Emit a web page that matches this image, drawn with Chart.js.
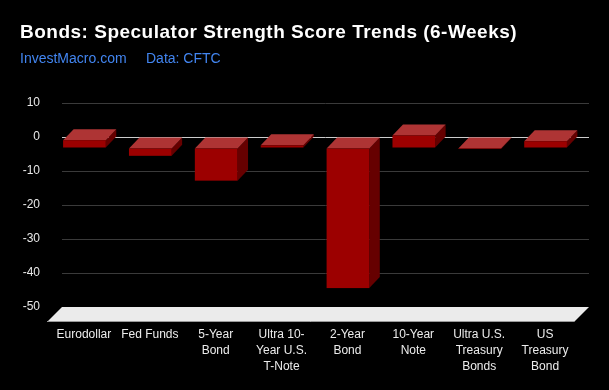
<!DOCTYPE html>
<html>
<head>
<meta charset="utf-8">
<title>Bonds: Speculator Strength Score Trends</title>
<script src="https://cdn.jsdelivr.net/npm/chart.js@4.4.1/dist/chart.umd.min.js"></script>
<style>
    html, body { margin: 0; padding: 0; background: #000; }
    #wrap { width: 609px; height: 390px; }
</style>
</head>
<body>
<div id="wrap"><canvas id="scoreChart" width="609" height="390"></canvas></div>
<script>
// Chart data
const categories = [
    'Eurodollar',
    'Fed Funds',
    ['5-Year', 'Bond'],
    ['Ultra 10-', 'Year U.S.', 'T-Note'],
    ['2-Year', 'Bond'],
    ['10-Year', 'Note'],
    ['Ultra U.S.', 'Treasury', 'Bonds'],
    ['US', 'Treasury', 'Bond']
];
const scores = [2.3, -2.3, -9.6, 0.8, -41.2, 3.7, -0.3, 2.0];
const yTicks = [10, 0, -10, -20, -30, -40, -50];

const titleText = 'Bonds: Speculator Strength Score Trends (6-Weeks)';
const creditText = 'InvestMacro.com';
const sourceText = 'Data: CFTC';

const FONT = '"Liberation Sans", Arial, sans-serif';
const DEPTH_X = 10.5; // 3d shift of the column front face
const DEPTH_Y = 11;
const FLOOR_DEPTH = 15;

// background + titles
const headerText = {
    id: 'headerText',
    beforeDraw(chart) {
        const ctx = chart.ctx;
        ctx.save();
        ctx.fillStyle = '#000';
        ctx.fillRect(0, 0, chart.width, chart.height);
        ctx.restore();
    },
    afterDraw(chart) {
        const ctx = chart.ctx;
        ctx.save();
        ctx.textBaseline = 'alphabetic';
        ctx.textAlign = 'left';
        ctx.fillStyle = '#ffffff';
        ctx.font = 'bold 19px ' + FONT;
        ctx.letterSpacing = '0.5px';
        ctx.fillText(titleText, 20, 38);
        ctx.letterSpacing = '0px';
        ctx.fillStyle = '#4285f0';
        ctx.font = '14px ' + FONT;
        ctx.fillText(creditText, 20, 63);
        ctx.fillText(sourceText, 146, 63);
        ctx.restore();
    }
};

// floor and 3d columns
const columns3d = {
    id: 'columns3d',
    beforeDatasetsDraw(chart) {
        const ctx = chart.ctx;
        const area = chart.chartArea;
        const floorY = chart.scales.y.getPixelForValue(yTicks[yTicks.length - 1]);

        ctx.save();
        ctx.beginPath();
        ctx.moveTo(area.left, floorY);
        ctx.lineTo(area.right, floorY);
        ctx.lineTo(area.right - FLOOR_DEPTH, floorY + FLOOR_DEPTH);
        ctx.lineTo(area.left - FLOOR_DEPTH, floorY + FLOOR_DEPTH);
        ctx.closePath();
        ctx.fillStyle = '#ebebeb';
        ctx.fill();
        ctx.strokeStyle = '#9a9a9a';
        ctx.lineWidth = 1;
        ctx.beginPath();
        ctx.moveTo(area.left - FLOOR_DEPTH, floorY + FLOOR_DEPTH - 0.5);
        ctx.lineTo(area.right - FLOOR_DEPTH, floorY + FLOOR_DEPTH - 0.5);
        ctx.stroke();

        const poly = (pts, color) => {
            ctx.beginPath();
            ctx.moveTo(pts[0][0], pts[0][1]);
            pts.slice(1).forEach(p => ctx.lineTo(p[0], p[1]));
            ctx.closePath();
            ctx.fillStyle = color;
            ctx.fill();
        };

        chart.getDatasetMeta(0).data.forEach(bar => {
            const { x, y, base, width } = bar.getProps(['x', 'y', 'base', 'width'], true);
            const l = x - width / 2, r = x + width / 2;
            const top = Math.min(y, base), bot = Math.max(y, base);
            const fl = l - DEPTH_X, fr = r - DEPTH_X;
            const ft = top + DEPTH_Y, fb = bot + DEPTH_Y;

            poly([[r, top], [r, bot], [fr, fb], [fr, ft]], '#660000');
            poly([[l, top], [r, top], [fr, ft], [fl, ft]], '#ae3434');
            ctx.fillStyle = '#9c0000';
            ctx.fillRect(fl, ft, width, bot - top);
        });
        ctx.restore();
    }
};

const ctx = document.getElementById('scoreChart').getContext('2d');
const myChart = new Chart(ctx, {
    type: 'bar',
    data: {
        labels: categories,
        datasets: [{
            label: 'Strength Score',
            data: scores,
            backgroundColor: 'rgba(0,0,0,0)',
            borderWidth: 0,
            barPercentage: 0.648,
            categoryPercentage: 1
        }]
    },
    options: {
        responsive: false,
        animation: false,
        events: [],
        layout: {
            padding: { top: 103, right: 20, left: 0, bottom: 0 }
        },
        plugins: {
            legend: { display: false },
            tooltip: { enabled: false }
        },
        scales: {
            x: {
                grid: { display: false },
                border: { display: false },
                afterFit(scale) { scale.height = 83; },
                ticks: {
                    color: '#ececec',
                    font: { family: FONT, size: 12, lineHeight: 16 / 12 },
                    padding: 12,
                    labelOffset: -11,
                    maxRotation: 0,
                    autoSkip: false
                }
            },
            y: {
                min: yTicks[yTicks.length - 1],
                max: yTicks[0],
                border: { display: false },
                afterFit(scale) { scale.width = 62; },
                grid: {
                    drawTicks: false,
                    lineWidth: 1,
                    color: c => c.tick.value === 0 ? '#cccccc' : (c.tick.value === yTicks[yTicks.length - 1] ? 'rgba(0,0,0,0)' : '#3a3a3a')
                },
                ticks: {
                    stepSize: 10,
                    padding: 22,
                    color: '#e8e8e8',
                    font: { family: FONT, size: 12 }
                }
            }
        }
    },
    plugins: [headerText, columns3d]
});
</script>
</body>
</html>
